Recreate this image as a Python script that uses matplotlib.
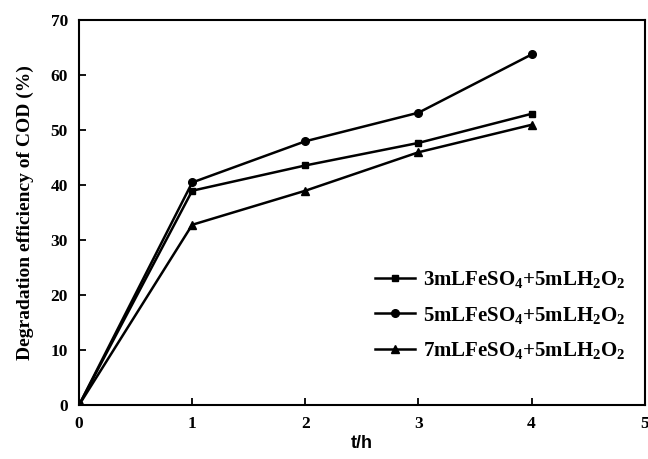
import matplotlib
matplotlib.use("Agg")
import matplotlib.pyplot as plt

t = [0, 1, 2, 3, 4]
s1 = [0, 39.0, 43.6, 47.7, 53.0]
s2 = [0, 40.5, 48.0, 53.2, 63.8]
s3 = [0, 32.8, 39.0, 46.0, 51.0]
labels = [r"3mLFeSO$_{4}$+5mLH$_{2}$O$_{2}$",
          r"5mLFeSO$_{4}$+5mLH$_{2}$O$_{2}$",
          r"7mLFeSO$_{4}$+5mLH$_{2}$O$_{2}$"]
xticks = [0, 1, 2, 3, 4, 5]
yticks = [0, 10, 20, 30, 40, 50, 60, 70]

plt.rcParams['font.family'] = 'Liberation Serif'
plt.rcParams['font.weight'] = 'bold'
plt.rcParams['mathtext.fontset'] = 'custom'
plt.rcParams['mathtext.rm'] = 'Liberation Serif:bold'
plt.rcParams['mathtext.it'] = 'Liberation Serif:bold'
plt.rcParams['mathtext.bf'] = 'Liberation Serif:bold'

fig = plt.figure(figsize=(6.48, 4.59), dpi=100)
ax = fig.add_axes([0.122, 0.1176, 0.873, 0.838])

ax.plot(t, s1, color='black', marker='s', markersize=5, linewidth=1.8, label=labels[0])
ax.plot(t, s2, color='black', marker='o', markersize=5.5, linewidth=1.8, label=labels[1])
ax.plot(t, s3, color='black', marker='^', markersize=6, linewidth=1.8, label=labels[2])

ax.set_xlim(0, 5)
ax.set_ylim(0, 70)
ax.set_xticks(xticks)
ax.set_yticks(yticks)
ax.tick_params(direction='in', length=5, width=1.3, labelsize=12.5, pad=8)
for lab in ax.get_xticklabels() + ax.get_yticklabels():
    lab.set_fontweight('bold')
for sp in ax.spines.values():
    sp.set_linewidth(1.5)

ax.set_xlabel('t/h', fontsize=13, fontweight='bold', family='Liberation Sans', labelpad=2)
ax.set_ylabel('Degradation efficiency of COD (%)', fontsize=14, fontweight='bold', labelpad=12)

leg = ax.legend(loc='lower right', bbox_to_anchor=(1.0, 0.065), frameon=False,
                fontsize=15, handlelength=1.9, handletextpad=0.4, labelspacing=0.7)

fig.savefig('out.png', dpi=100)
